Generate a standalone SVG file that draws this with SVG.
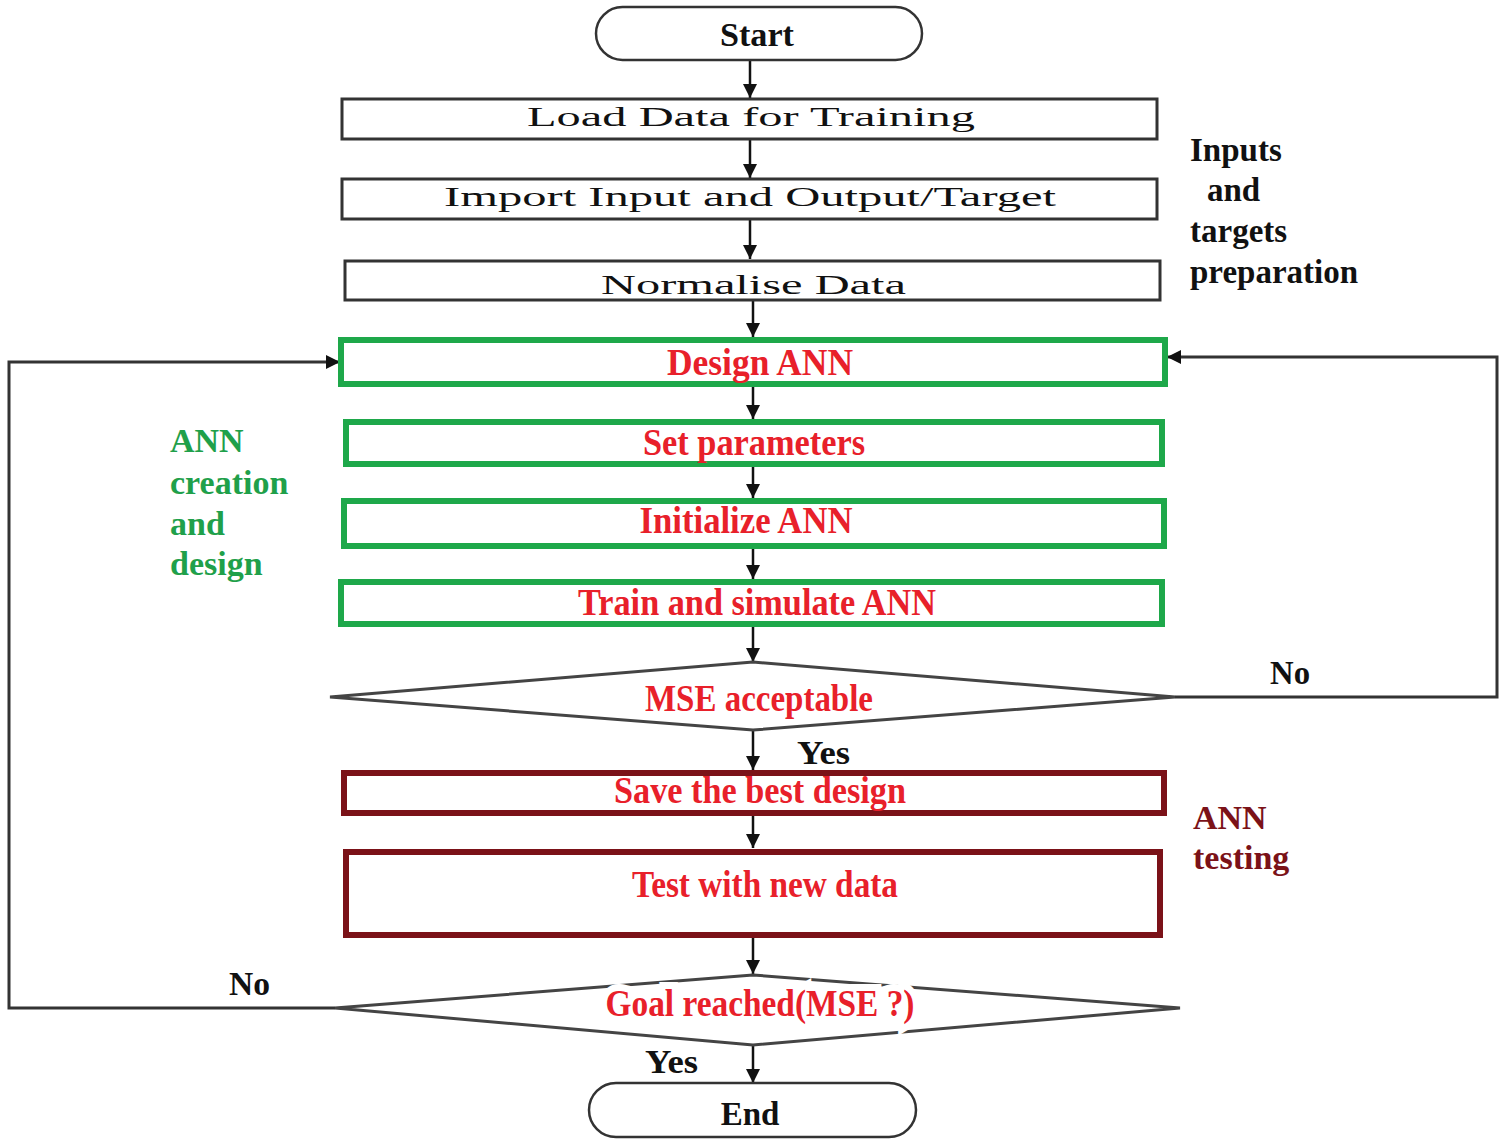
<svg xmlns="http://www.w3.org/2000/svg" width="1504" height="1145" viewBox="0 0 1504 1145">
<style>
.bk{fill:#fff;stroke:#333;stroke-width:3}
.gr{fill:#fff;stroke:#1ea84a;stroke-width:6}
.dr{fill:#fff;stroke:#7b1218;stroke-width:6}
.term{fill:#fff;stroke:#333;stroke-width:2.5}
.dia{fill:#fff;stroke:#444;stroke-width:3}
.wide{font-family:"Liberation Serif",serif;font-size:27px;fill:#111}
.red{font-family:"Liberation Serif",serif;font-weight:bold;font-size:38px;fill:#e8202a;text-anchor:middle}
.lbl{font-family:"Liberation Serif",serif;font-weight:bold;font-size:33px;fill:#111}
.glbl{font-family:"Liberation Serif",serif;font-weight:bold;font-size:34px;fill:#1fa04a}
.rlbl{font-family:"Liberation Serif",serif;font-weight:bold;font-size:34px;fill:#7b1218}
.con{fill:none;stroke:#111;stroke-width:2.5}
.loop{fill:none;stroke:#333;stroke-width:3}
</style>
<defs>
<marker id="ah" viewBox="0 0 14 14" refX="14" refY="7" markerWidth="14" markerHeight="14" markerUnits="userSpaceOnUse" orient="auto">
<path d="M0,0 L14,7 L0,14 Z" fill="#111"/>
</marker>
</defs>
<g id="connectors">
<line class="con" x1="750" y1="60" x2="750" y2="98" marker-end="url(#ah)"/>
<line class="con" x1="750" y1="139" x2="750" y2="178" marker-end="url(#ah)"/>
<line class="con" x1="750" y1="219" x2="750" y2="259" marker-end="url(#ah)"/>
<line class="con" x1="753" y1="300" x2="753" y2="337" marker-end="url(#ah)"/>
<line class="con" x1="753" y1="386" x2="753" y2="419" marker-end="url(#ah)"/>
<line class="con" x1="753" y1="466" x2="753" y2="498" marker-end="url(#ah)"/>
<line class="con" x1="753" y1="548" x2="753" y2="579" marker-end="url(#ah)"/>
<line class="con" x1="753" y1="626" x2="753" y2="662" marker-end="url(#ah)"/>
<line class="con" x1="753" y1="730" x2="753" y2="770" marker-end="url(#ah)"/>
<line class="con" x1="753" y1="815" x2="753" y2="848" marker-end="url(#ah)"/>
<line class="con" x1="753" y1="937" x2="753" y2="974" marker-end="url(#ah)"/>
<line class="con" x1="753" y1="1045" x2="753" y2="1083" marker-end="url(#ah)"/>
<polyline class="loop" points="1175,697 1497,697 1497,357 1167,357" marker-end="url(#ah)"/>
<polyline class="loop" points="335,1008 9,1008 9,362 340,362" marker-end="url(#ah)"/>
</g>
<g id="start">
<rect class="term" x="596" y="7" width="326" height="53" rx="26.5"/>
<text class="lbl" x="757" y="46" text-anchor="middle" font-size="35" textLength="74" lengthAdjust="spacingAndGlyphs">Start</text>
</g>
<g id="load">
<rect class="bk" x="342" y="99" width="815" height="40"/>
<text class="wide" x="527" y="126" textLength="448" lengthAdjust="spacingAndGlyphs">Load Data for Training</text>
</g>
<g id="import">
<rect class="bk" x="342" y="179" width="815" height="40"/>
<text class="wide" x="444" y="206" textLength="612" lengthAdjust="spacingAndGlyphs">Import Input and Output/Target</text>
</g>
<g id="normalise">
<rect class="bk" x="345" y="261" width="815" height="39"/>
<text class="wide" x="601" y="294" textLength="305" lengthAdjust="spacingAndGlyphs">Normalise Data</text>
</g>
<g id="design">
<rect class="gr" x="341" y="340" width="824" height="44"/>
<text class="red" x="760" y="375" textLength="186" lengthAdjust="spacingAndGlyphs">Design ANN</text>
</g>
<g id="setparams">
<rect class="gr" x="346" y="422" width="816" height="42"/>
<text class="red" x="754" y="455" textLength="222" lengthAdjust="spacingAndGlyphs">Set parameters</text>
</g>
<g id="init">
<rect class="gr" x="344" y="501" width="820" height="45"/>
<text class="red" x="746" y="533" textLength="213" lengthAdjust="spacingAndGlyphs">Initialize ANN</text>
</g>
<g id="train">
<rect class="gr" x="341" y="582" width="821" height="42"/>
<text class="red" x="757" y="615" textLength="358" lengthAdjust="spacingAndGlyphs">Train and simulate ANN</text>
</g>
<g id="mse">
<polygon class="dia" points="330,697 753,662 1175,697 753,730"/>
<text class="red" x="759" y="711" textLength="228" lengthAdjust="spacingAndGlyphs">MSE acceptable</text>
</g>
<g id="save">
<rect class="dr" x="344" y="773" width="820" height="40"/>
<text class="red" x="760" y="803" textLength="292" lengthAdjust="spacingAndGlyphs">Save the best design</text>
</g>
<g id="test">
<rect class="dr" x="346" y="852" width="814" height="83"/>
<text class="red" x="765" y="897" textLength="266" lengthAdjust="spacingAndGlyphs">Test with new data</text>
</g>
<g id="goal">
<polygon class="dia" points="335,1008 753,975 1180,1008 753,1045"/>
<text class="red" x="760" y="1016" textLength="309" lengthAdjust="spacingAndGlyphs" stroke="#fff" stroke-width="14" paint-order="stroke">Goal reached(MSE ?)</text>
</g>
<g id="end">
<rect class="term" x="589" y="1083" width="327" height="54" rx="27"/>
<text class="lbl" x="750" y="1125" text-anchor="middle" font-size="35">End</text>
</g>
<g id="labels">
<text class="lbl" x="1270" y="684" font-size="35" textLength="40" lengthAdjust="spacingAndGlyphs">No</text>
<text class="lbl" x="797" y="764" font-size="35" textLength="53" lengthAdjust="spacingAndGlyphs">Yes</text>
<text class="lbl" x="229" y="995" font-size="35" textLength="41" lengthAdjust="spacingAndGlyphs">No</text>
<text class="lbl" x="645" y="1073" font-size="35" textLength="53" lengthAdjust="spacingAndGlyphs">Yes</text>
<text class="lbl" x="1190" y="161">Inputs</text>
<text class="lbl" x="1207" y="201">and</text>
<text class="lbl" x="1190" y="242">targets</text>
<text class="lbl" x="1190" y="283">preparation</text>
<text class="glbl" x="170" y="452">ANN</text>
<text class="glbl" x="170" y="494">creation</text>
<text class="glbl" x="170" y="535">and</text>
<text class="glbl" x="170" y="575">design</text>
<text class="rlbl" x="1193" y="829">ANN</text>
<text class="rlbl" x="1193" y="869">testing</text>
</g>
</svg>
